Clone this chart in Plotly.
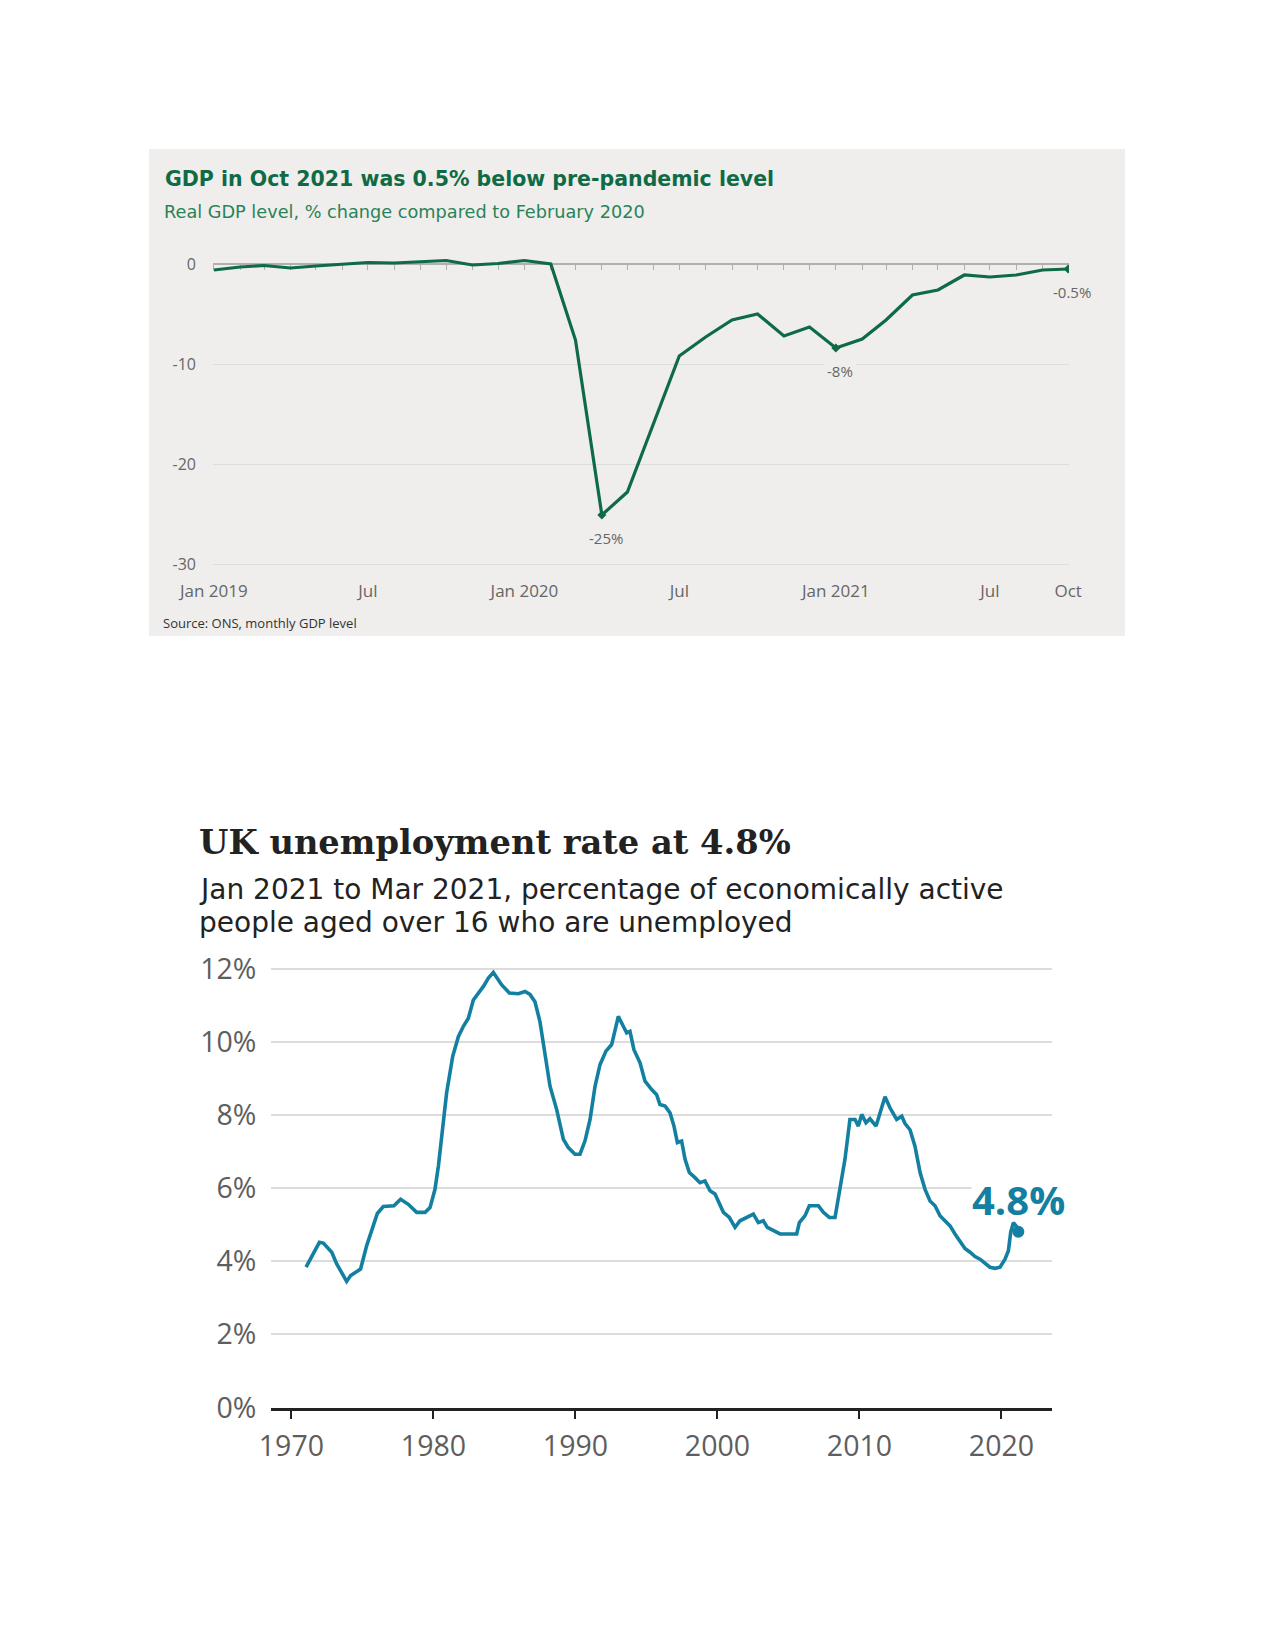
import pandas as pd
import plotly.graph_objects as go

# ---------------- DATA ----------------
# GDP chart: monthly real GDP, % change vs Feb 2020 (Jan 2019 .. Oct 2021)
gdp_months = pd.date_range("2019-01-01", periods=34, freq="MS")
gdp_values = [-0.6, -0.3, -0.15, -0.4, -0.2, 0.0, 0.15, 0.1, 0.2, 0.35, -0.1, 0.05,
              0.35, 0.0, -7.6, -25.1, -22.8, -16.0, -9.2, -7.3, -5.6, -5.0, -7.2, -6.3,
              -8.4, -7.5, -5.6, -3.1, -2.6, -1.1, -1.3, -1.1, -0.6, -0.5]
gdp_tick_dates = ["2019-01-01", "2019-07-01", "2020-01-01", "2020-07-01",
                  "2021-01-01", "2021-07-01", "2021-10-01"]
gdp_tick_text = ["Jan 2019", "Jul", "Jan 2020", "Jul", "Jan 2021", "Jul", "Oct"]
gdp_y_ticks = [0, -10, -20, -30]
gdp_y_text = ["0", "-10", "-20", "-30"]
gdp_labels_idx = [15, 24, 33]
gdp_labels_text = ["-25%", "-8%", "-0.5%"]

# Unemployment chart: UK unemployment rate (%)
unemp_year = [1971.03, 1971.43, 1971.97, 1972.25, 1972.84, 1973.19, 1973.54, 1973.89, 1974.17, 1974.64,
              1974.87, 1975.30, 1975.65, 1976.05, 1976.47, 1977.22, 1977.69, 1978.23, 1978.82, 1979.41,
              1979.76, 1980.11, 1980.35, 1980.58, 1980.93, 1981.36, 1981.76, 1982.11, 1982.46, 1982.81,
              1983.17, 1983.52, 1983.87, 1984.22, 1984.81, 1985.35, 1985.98, 1986.45, 1986.80, 1987.15,
              1987.50, 1987.86, 1988.21, 1988.68, 1989.15, 1989.50, 1989.97, 1990.32, 1990.67, 1991.03,
              1991.38, 1991.73, 1992.15, 1992.55, 1993.02, 1993.37, 1993.61, 1993.84, 1994.12, 1994.55,
              1994.90, 1995.37, 1995.72, 1995.95, 1996.31, 1996.66, 1996.94, 1997.18, 1997.48, 1997.72,
              1998.02, 1998.42, 1998.77, 1999.12, 1999.48, 1999.83, 2000.13, 2000.42, 2000.84, 2001.24,
              2001.59, 2002.06, 2002.53, 2002.88, 2003.23, 2003.51, 2003.94, 2004.41, 2004.88, 2005.35,
              2005.58, 2005.77, 2006.17, 2006.47, 2007.11, 2007.46, 2007.88, 2008.28, 2008.63, 2008.98,
              2009.33, 2009.69, 2009.92, 2010.16, 2010.46, 2010.74, 2011.17, 2011.45, 2011.80, 2012.15,
              2012.62, 2012.98, 2013.21, 2013.56, 2013.91, 2014.27, 2014.62, 2014.97, 2015.32, 2015.67,
              2016.03, 2016.38, 2016.73, 2017.08, 2017.43, 2017.79, 2018.14, 2018.49, 2018.84, 2019.19,
              2019.55, 2019.90, 2020.25, 2020.49, 2020.65, 2020.84, 2021.03, 2021.19]
unemp_rate = [3.84, 4.15, 4.52, 4.50, 4.25, 3.93, 3.70, 3.45, 3.61, 3.72,
              3.79, 4.43, 4.88, 5.31, 5.50, 5.52, 5.70, 5.56, 5.34, 5.34,
              5.47, 5.97, 6.61, 7.43, 8.61, 9.61, 10.15, 10.43, 10.65, 11.15,
              11.34, 11.52, 11.75, 11.90, 11.56, 11.34, 11.32, 11.38, 11.30, 11.10,
              10.56, 9.70, 8.79, 8.15, 7.34, 7.11, 6.93, 6.93, 7.29, 7.88,
              8.79, 9.38, 9.75, 9.93, 10.70, 10.43, 10.25, 10.29, 9.79, 9.43,
              8.93, 8.70, 8.56, 8.29, 8.25, 8.06, 7.70, 7.25, 7.29, 6.79,
              6.43, 6.29, 6.15, 6.20, 5.93, 5.84, 5.61, 5.34, 5.20, 4.93,
              5.11, 5.20, 5.29, 5.06, 5.11, 4.93, 4.84, 4.75, 4.75, 4.75,
              4.75, 5.06, 5.25, 5.52, 5.52, 5.34, 5.20, 5.20, 5.97, 6.79,
              7.88, 7.88, 7.70, 8.02, 7.79, 7.90, 7.70, 8.06, 8.50, 8.20,
              7.88, 7.97, 7.77, 7.60, 7.15, 6.43, 5.97, 5.65, 5.52, 5.25,
              5.11, 4.97, 4.75, 4.56, 4.35, 4.25, 4.13, 4.06, 3.95, 3.84,
              3.81, 3.84, 4.06, 4.29, 4.79, 5.06, 4.97, 4.81]
unemp_x_ticks = [1970, 1980, 1990, 2000, 2010, 2020]
unemp_y_ticks = [0, 2, 4, 6, 8, 10, 12]
unemp_y_text = ["0%", "2%", "4%", "6%", "8%", "10%", "12%"]
unemp_label = "4.8%"
unemp_title = "UK unemployment rate at 4.8%"
unemp_sub = ["Jan 2021 to Mar 2021, percentage of economically active",
             "people aged over 16 who are unemployed"]

# ---------------- LAYOUT HELPERS ----------------
W, H = 1275, 1650
OFF = 8  # page body margin of the rendered html


def fx(px):
    return (px - OFF) / W


def fy(py):
    return 1 - (py - OFF) / H


GREEN = "#0f6b45"
TEAL = "#1380A1"
PANEL = "#efeeec"

fig = go.Figure()

# GDP line
fig.add_trace(go.Scatter(x=gdp_months, y=gdp_values, mode="lines",
                         line=dict(color=GREEN, width=3.2), xaxis="x", yaxis="y",
                         hoverinfo="skip", showlegend=False))
# labelled points (diamonds)
fig.add_trace(go.Scatter(x=[gdp_months[i] for i in gdp_labels_idx],
                         y=[gdp_values[i] for i in gdp_labels_idx], mode="markers",
                         marker=dict(symbol="diamond", size=7, color=GREEN),
                         xaxis="x", yaxis="y", hoverinfo="skip", showlegend=False))
# invisible trace to carry the zero-line tick axis
fig.add_trace(go.Scatter(x=gdp_months, y=gdp_values, mode="lines", opacity=0,
                         line=dict(width=0), xaxis="x2", yaxis="y",
                         hoverinfo="skip", showlegend=False))

# Unemployment line
fig.add_trace(go.Scatter(x=unemp_year, y=unemp_rate, mode="lines",
                         line=dict(color=TEAL, width=3.6), xaxis="x3", yaxis="y3",
                         hoverinfo="skip", showlegend=False))
fig.add_trace(go.Scatter(x=[unemp_year[-1]], y=[unemp_rate[-1]], mode="markers",
                         marker=dict(color=TEAL, size=12), xaxis="x3", yaxis="y3",
                         hoverinfo="skip", showlegend=False))

# GDP geometry
gdp_x_dom = [fx(213), fx(1069)]
gdp_y_range = [-30.5, 1.5]
gdp_y_dom = [fy(569), fy(249)]
zero_pos = gdp_y_dom[0] + (0 - gdp_y_range[0]) / (gdp_y_range[1] - gdp_y_range[0]) * (gdp_y_dom[1] - gdp_y_dom[0])
gdp_x_range = ["2018-12-31", "2021-10-02"]

tickfont_gdp = dict(family="Open Sans", size=16, color="#666666")
tickfont_un = dict(family="Open Sans", size=28.5, color="#5e5e5e")

fig.update_layout(
    width=W, height=H, autosize=False,
    margin=dict(l=0, r=0, t=0, b=0, pad=0),
    paper_bgcolor="white", plot_bgcolor="rgba(0,0,0,0)",
    xaxis=dict(domain=gdp_x_dom, range=gdp_x_range, type="date", anchor="y",
               tickvals=gdp_tick_dates, ticktext=gdp_tick_text, ticks="",
               showline=False, showgrid=False, zeroline=False, automargin=False,
               tickfont=dict(family="Open Sans", size=17, color="#666666"),
               ticklabelstandoff=10),
    xaxis2=dict(domain=gdp_x_dom, range=gdp_x_range, type="date", overlaying="x",
                anchor="free", position=zero_pos, showticklabels=False,
                showline=True, linecolor="#b0b0b0", linewidth=1.5,
                ticks="outside", ticklen=5, tickwidth=1, tickcolor="#b0b0b0",
                dtick="M1", tick0="2019-01-01", showgrid=False, zeroline=False,
                layer="below traces", automargin=False),
    yaxis=dict(domain=gdp_y_dom, range=gdp_y_range, anchor="x",
               tickvals=gdp_y_ticks, ticktext=gdp_y_text, ticks="",
               showgrid=True, gridcolor="#dcdcdc",
               gridwidth=1, zeroline=False, showline=False, automargin=False,
               tickfont=tickfont_gdp, ticklabelstandoff=16),
    xaxis3=dict(domain=[fx(271.4), fx(1052)], range=[1968.59, 2023.56], anchor="y3",
                tickvals=unemp_x_ticks, ticks="outside", ticklen=9, tickwidth=2,
                tickcolor="#222222", showline=True, linecolor="#222222", linewidth=2.5,
                showgrid=False, zeroline=False, automargin=False,
                tickfont=tickfont_un, ticklabelstandoff=2),
    yaxis3=dict(domain=[fy(1407.6), fy(957.9)], range=[0, 12.3], anchor="x3",
                tickvals=unemp_y_ticks, ticktext=unemp_y_text, ticks="",
                showgrid=True, gridcolor="#dcdcdc", gridwidth=1.5,
                zeroline=False, showline=False, automargin=False,
                tickfont=tickfont_un, ticklabelstandoff=14),
    shapes=[dict(type="rect", xref="paper", yref="paper",
                 x0=fx(149), x1=fx(1125), y0=fy(636), y1=fy(149),
                 fillcolor=PANEL, line=dict(width=0), layer="below")],
)

annotations = [
    dict(text="<b>GDP in Oct 2021 was 0.5% below pre-pandemic level</b>",
         x=fx(163), y=fy(179), xanchor="left", yanchor="middle",
         font=dict(family="DejaVu Sans", size=20.5, color=GREEN)),
    dict(text="Real GDP level, % change compared to February 2020",
         x=fx(162), y=fy(212.5), xanchor="left", yanchor="middle",
         font=dict(family="DejaVu Sans", size=17.7, color="#2a8259")),
    dict(text="Source: ONS, monthly GDP level",
         x=fx(161), y=fy(623), xanchor="left", yanchor="middle",
         font=dict(family="Open Sans", size=13, color="#333333")),
    dict(text=unemp_title,
         x=fx(197), y=fy(841.6), xanchor="left", yanchor="middle",
         font=dict(family="DejaVu Serif", size=33.7, color="#222222", weight="bold")),
    dict(text=unemp_sub[0],
         x=fx(197), y=fy(889), xanchor="left", yanchor="middle",
         font=dict(family="DejaVu Sans", size=28, color="#222222")),
    dict(text=unemp_sub[1],
         x=fx(197), y=fy(922.6), xanchor="left", yanchor="middle",
         font=dict(family="DejaVu Sans", size=28, color="#222222")),
]
for a in annotations:
    a.update(xref="paper", yref="paper", showarrow=False)

for i, t in zip(gdp_labels_idx, gdp_labels_text):
    annotations.append(dict(text=t, x=gdp_months[i], y=gdp_values[i], xref="x", yref="y",
                            showarrow=False, yshift=-23, xshift=4,
                            bgcolor=PANEL, borderpad=3,
                            font=dict(family="Open Sans", size=15, color="#666666")))

annotations.append(dict(text="<b>" + unemp_label + "</b>", x=unemp_year[-1], y=unemp_rate[-1],
                        xref="x3", yref="y3", showarrow=False, yshift=33, xshift=0,
                        bgcolor="white", borderpad=0, height=34,
                        font=dict(family="Open Sans", size=40, color=TEAL)))

fig.update_layout(annotations=annotations)

fig.write_html("out.html")
